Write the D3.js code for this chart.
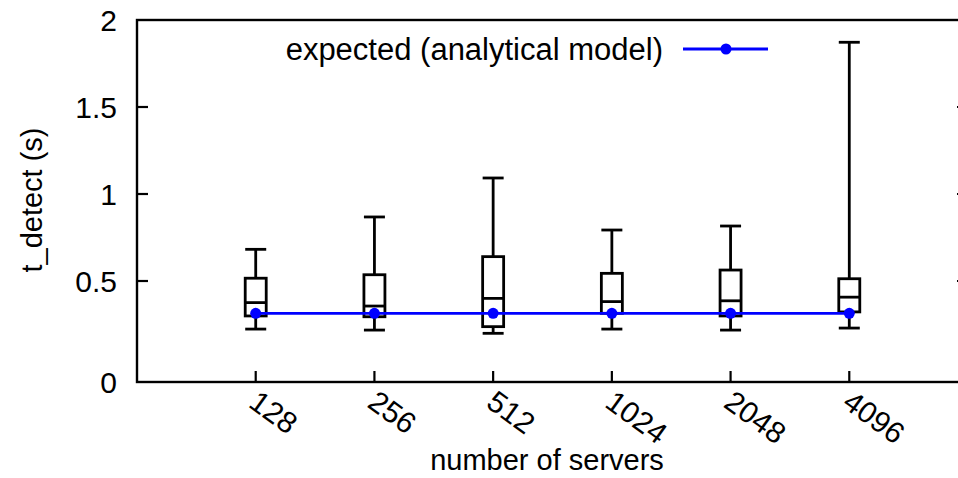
<!DOCTYPE html>
<html>
<head>
<meta charset="utf-8">
<script src="https://cdn.jsdelivr.net/npm/d3@7"></script>
<style>
  body { margin: 0; background: #fff; }
  text { font-family: "Liberation Sans", Arial, sans-serif; fill: #000; }
</style>
</head>
<body>
<svg id="canvas" width="958" height="478"></svg>
<script>
let servers = ['128', '256', '512', '1024', '2048', '4096']
let whiskerLow = [0.262, 0.257, 0.241, 0.262, 0.257, 0.267]
let q1 = [0.327, 0.323, 0.274, 0.340, 0.327, 0.347]
let median = [0.393, 0.376, 0.414, 0.398, 0.402, 0.420]
let q3 = [0.516, 0.536, 0.640, 0.544, 0.563, 0.513]
let whiskerHigh = [0.682, 0.868, 1.092, 0.793, 0.816, 1.872]
let expected = [0.34, 0.34, 0.34, 0.34, 0.34, 0.34]
let yTicks = [0, 0.5, 1, 1.5, 2]

let canvas = d3.select('#canvas')

let plotLeft = 137, plotRight = 968, plotTop = 20, plotBottom = 382

let xScale = d3.scalePoint()
               .domain(servers)
               .range([plotLeft, plotRight])
               .padding(1)

// the y axis of the original is not evenly spaced below 0.5
let yScale = d3.scaleLinear()
               .domain([0, 0.5, 2])
               .range([plotBottom, 281, plotTop])

let boxData = servers.map((s, i) => {
    return {
        name: s,
        low: whiskerLow[i],
        q1: q1[i],
        med: median[i],
        q3: q3[i],
        high: whiskerHigh[i]
    }
})

// border
canvas.append('rect')
      .attr('x', plotLeft)
      .attr('y', plotTop)
      .attr('width', plotRight - plotLeft)
      .attr('height', plotBottom - plotTop)
      .attr('fill', 'none')
      .attr('stroke', '#000')
      .attr('stroke-width', 2.4)

// y ticks, left and mirrored right
yTicks.forEach((t) => {
    let y = yScale(t)
    if (t > 0 && t < 2) {
        canvas.append('line')
              .attr('x1', plotLeft).attr('x2', plotLeft + 11)
              .attr('y1', y).attr('y2', y)
              .attr('stroke', '#000').attr('stroke-width', 2.2)
        canvas.append('line')
              .attr('x1', plotRight - 11).attr('x2', plotRight)
              .attr('y1', y).attr('y2', y)
              .attr('stroke', '#000').attr('stroke-width', 2.2)
    }
    canvas.append('text')
          .attr('x', 117)
          .attr('y', y)
          .attr('dy', '0.36em')
          .attr('text-anchor', 'end')
          .style('font-size', '30px')
          .text(t)
})

// x ticks
servers.forEach((s) => {
    let x = xScale(s)
    canvas.append('line')
          .attr('x1', x).attr('x2', x)
          .attr('y1', plotBottom).attr('y2', plotBottom - 11)
          .attr('stroke', '#000').attr('stroke-width', 2.2)
    canvas.append('text')
          .attr('transform', 'translate(' + (x + 4) + ',' + 389 + ') rotate(36)')
          .attr('dy', '0.7em')
          .style('font-size', '30px')
          .text(s)
})

// axis titles
canvas.append('text')
      .attr('transform', 'translate(42,200) rotate(-90)')
      .attr('text-anchor', 'middle')
      .style('font-size', '29px')
      .text('t_detect (s)')

canvas.append('text')
      .attr('x', 547)
      .attr('y', 470)
      .attr('text-anchor', 'middle')
      .style('font-size', '29px')
      .text('number of servers')

// boxes
let box = canvas.selectAll('g.box')
                .data(boxData)
                .enter()
                .append('g')
                .attr('class', 'box')
                .attr('transform', (d) => {
                    return 'translate(' + xScale(d.name) + ',0)'
                })

let hw = 10.5
let bw = 2.8

box.append('line')
   .attr('x1', 0).attr('x2', 0)
   .attr('y1', (d) => yScale(d.high))
   .attr('y2', (d) => yScale(d.q3))
   .attr('stroke', '#000').attr('stroke-width', bw)

box.append('line')
   .attr('x1', 0).attr('x2', 0)
   .attr('y1', (d) => yScale(d.q1))
   .attr('y2', (d) => yScale(d.low))
   .attr('stroke', '#000').attr('stroke-width', bw)

box.append('line')
   .attr('x1', -hw).attr('x2', hw)
   .attr('y1', (d) => yScale(d.high))
   .attr('y2', (d) => yScale(d.high))
   .attr('stroke', '#000').attr('stroke-width', bw)

box.append('line')
   .attr('x1', -hw).attr('x2', hw)
   .attr('y1', (d) => yScale(d.low))
   .attr('y2', (d) => yScale(d.low))
   .attr('stroke', '#000').attr('stroke-width', bw)

box.append('rect')
   .attr('x', -hw)
   .attr('y', (d) => yScale(d.q3))
   .attr('width', hw * 2)
   .attr('height', (d) => yScale(d.q1) - yScale(d.q3))
   .attr('fill', 'none')
   .attr('stroke', '#000').attr('stroke-width', bw)

box.append('line')
   .attr('x1', -hw).attr('x2', hw)
   .attr('y1', (d) => yScale(d.med))
   .attr('y2', (d) => yScale(d.med))
   .attr('stroke', '#000').attr('stroke-width', bw)

// expected line
let line = d3.line()
             .x((d, i) => xScale(servers[i]))
             .y((d) => yScale(d))

canvas.append('path')
      .datum(expected)
      .attr('d', line)
      .attr('fill', 'none')
      .attr('stroke', '#0000ff')
      .attr('stroke-width', 2.8)

canvas.selectAll('circle.exp')
      .data(expected)
      .enter()
      .append('circle')
      .attr('class', 'exp')
      .attr('cx', (d, i) => xScale(servers[i]))
      .attr('cy', (d) => yScale(d))
      .attr('r', 5.5)
      .attr('fill', '#0000ff')

// legend
canvas.append('text')
      .attr('x', 663)
      .attr('y', 49)
      .attr('dy', '0.36em')
      .attr('text-anchor', 'end')
      .style('font-size', '31px')
      .text('expected (analytical model)')

canvas.append('line')
      .attr('x1', 683).attr('x2', 768)
      .attr('y1', 49).attr('y2', 49)
      .attr('stroke', '#0000ff').attr('stroke-width', 2.8)

canvas.append('circle')
      .attr('cx', 726)
      .attr('cy', 49)
      .attr('r', 5.5)
      .attr('fill', '#0000ff')
</script>
</body>
</html>
